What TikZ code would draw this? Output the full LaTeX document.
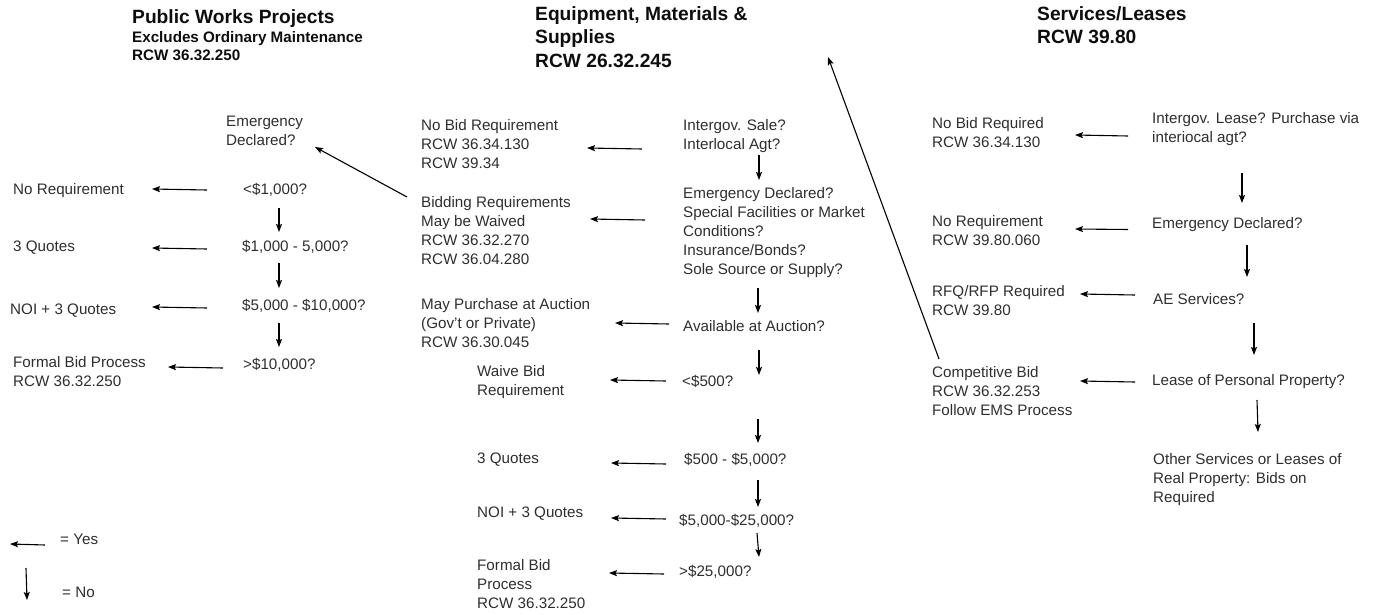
\documentclass[tikz,border=0pt]{standalone}
\usepackage{fontspec}
\setmainfont{Liberation Sans}
\usetikzlibrary{arrows.meta}
\begin{document}
\begin{tikzpicture}[x=1pt,y=-1pt,
  txt/.style={anchor=north west, yshift=13.23pt, inner sep=0, align=left, text=black!82, font=\fontsize{15.2}{18.9}\selectfont, execute at begin node=\strut},
  ttl/.style={anchor=north west, yshift=16.59pt, inner sep=0, align=left, text=black!95, font=\fontsize{19.2}{23.7}\selectfont\bfseries, execute at begin node=\strut},
  sub/.style={anchor=north west, yshift=12.6pt, inner sep=0, align=left, text=black!95, font=\fontsize{15.2}{18}\selectfont\bfseries, execute at begin node=\strut},
  arr/.style={-{Stealth[length=8pt,width=6pt,inset=1.5pt]}, line width=1.1pt}]
\useasboundingbox (0,0) rectangle (1376,615);
% ---- titles
\node[ttl] (lt1) at (132,23) {Public Works Projects};
\node[sub] (lt2) at (132,42) {Excludes Ordinary Maintenance};
\node[sub] (lt3) at (132,60) {RCW 36.32.250};
\node[ttl] (mt) at (535,22.7) {Equipment, Materials \&\\Supplies\\RCW 26.32.245};
\node[ttl] (rt) at (1037,22.7) {Services/Leases\\RCW 39.80};
% ---- left column
\node[txt] (emg) at (226,129.5) {Emergency\\Declared?};
\node[txt] (noreq) at (13,194) {No Requirement};
\node[txt] (q1) at (243,194) {<\$1,000?};
\node[txt] (lq3) at (13,251) {3 Quotes};
\node[txt] (q2) at (242,251) {\$1,000 - 5,000?};
\node[txt] (lnoi) at (10,314) {NOI + 3 Quotes};
\node[txt] (q3) at (242,310) {\$5,000 - \$10,000?};
\node[txt] (lformal) at (13,369.5) {Formal Bid Process\\RCW 36.32.250};
\node[txt] (q4) at (243,369) {>\$10,000?};
% ---- middle column
\node[txt] (nobid) at (421,132.5) {No Bid Requirement\\RCW 36.34.130\\RCW 39.34};
\node[txt] (intg) at (683,132.5) {Intergov. Sale?\\Interlocal Agt?};
\node[txt] (emd) at (683,200.5) {Emergency Declared?\\Special Facilities or Market\\Conditions?\\Insurance/Bonds?\\Sole Source or Supply?};
\node[txt] (bidw) at (421,209.5) {Bidding Requirements\\May be Waived\\RCW 36.32.270\\RCW 36.04.280};
\node[txt] (auct) at (421,311.5) {May Purchase at Auction\\(Gov't or Private)\\RCW 36.30.045};
\node[txt] (avail) at (683,331.5) {Available at Auction?};
\node[txt] (waive) at (477,378.5) {Waive Bid\\Requirement};
\node[txt] (q500) at (682,386.5) {<\$500?};
\node[txt] (mq3) at (477,463.5) {3 Quotes};
\node[txt] (q5k) at (684,464.5) {\$500 - \$5,000?};
\node[txt] (mnoi) at (477,517.5) {NOI + 3 Quotes};
\node[txt] (q25) at (679,525.5) {\$5,000-\$25,000?};
\node[txt] (mformal) at (477,572.5) {Formal Bid\\Process\\RCW 36.32.250};
\node[txt] (q25p) at (679,576.5) {>\$25,000?};
% ---- right column
\node[txt] (rnobid) at (932,130.5) {No Bid Required\\RCW 36.34.130};
\node[txt] (rintg) at (1152,125.5) {Intergov. Lease? Purchase via\\interiocal agt?};
\node[txt] (rnoreq) at (932,228.5) {No Requirement\\RCW 39.80.060};
\node[txt] (remg) at (1152,228.5) {Emergency Declared?};
\node[txt] (rfq) at (932,298.5) {RFQ/RFP Required\\RCW 39.80};
\node[txt] (ae) at (1153,304.5) {AE Services?};
\node[txt] (comp) at (932,379.5) {Competitive Bid\\RCW 36.32.253\\Follow EMS Process};
\node[txt] (lease) at (1152,385.5) {Lease of Personal Property?};
\node[txt] (other) at (1153,466.5) {Other Services or Leases of\\Real Property: Bids on\\Required};
% ---- legend
\node[txt] (yes) at (60,544.5) {= Yes};
\node[txt] (no) at (62,597.5) {= No};
% ---- arrow end points
\coordinate (a1s) at (207,190);  \coordinate (a1e) at (152,189);
\coordinate (a2s) at (279,208);  \coordinate (a2e) at (279,232);
\coordinate (a3s) at (207,249);  \coordinate (a3e) at (152,248);
\coordinate (a4s) at (279,263);  \coordinate (a4e) at (279,288);
\coordinate (a5s) at (207,308);  \coordinate (a5e) at (152,307);
\coordinate (a6s) at (279,323);  \coordinate (a6e) at (279,347);
\coordinate (a7s) at (223,368);  \coordinate (a7e) at (168,367);
\coordinate (a8s) at (407,197);  \coordinate (a8e) at (315,147);
\coordinate (b1s) at (642,149);  \coordinate (b1e) at (587,148);
\coordinate (b2s) at (759,155);  \coordinate (b2e) at (759,180);
\coordinate (b3s) at (645,220);  \coordinate (b3e) at (590,219);
\coordinate (b4s) at (758,288);  \coordinate (b4e) at (758,313);
\coordinate (b5s) at (669,324);  \coordinate (b5e) at (615,323);
\coordinate (b6s) at (759,350);  \coordinate (b6e) at (759,375);
\coordinate (b7s) at (666,381);  \coordinate (b7e) at (610,380);
\coordinate (b8s) at (758,419);  \coordinate (b8e) at (758,443);
\coordinate (b9s) at (666,464);  \coordinate (b9e) at (611,463);
\coordinate (b10s) at (758,480); \coordinate (b10e) at (758,507);
\coordinate (b11s) at (666,519); \coordinate (b11e) at (611,518);
\coordinate (b12s) at (757,533); \coordinate (b12e) at (759,557);
\coordinate (b13s) at (664,574); \coordinate (b13e) at (609,573);
\coordinate (b14s) at (939,359); \coordinate (b14e) at (828,57);
\coordinate (c1s) at (1128,136); \coordinate (c1e) at (1075,135);
\coordinate (c2s) at (1242,173); \coordinate (c2e) at (1242,203);
\coordinate (c3s) at (1128,229.5); \coordinate (c3e) at (1075,229);
\coordinate (c4s) at (1247,245); \coordinate (c4e) at (1247,277);
\coordinate (c5s) at (1135,295); \coordinate (c5e) at (1080,294);
\coordinate (c6s) at (1254,323); \coordinate (c6e) at (1254,355);
\coordinate (c7s) at (1135,382); \coordinate (c7e) at (1080,381);
\coordinate (c8s) at (1257,400); \coordinate (c8e) at (1258,432);
\coordinate (d1s) at (45,545);   \coordinate (d1e) at (10,544);
\coordinate (d2s) at (26,568);   \coordinate (d2e) at (27,600);
% ---- arrows
\foreach \n in {a1,a2,a3,a4,a5,a6,a7,a8,b1,b2,b3,b4,b5,b6,b7,b8,b9,b10,b11,b12,b13,b14,c1,c2,c3,c4,c5,c6,c7,c8,d1,d2}
  \draw[arr] (\n s) -- (\n e);
\end{tikzpicture}
\end{document}
